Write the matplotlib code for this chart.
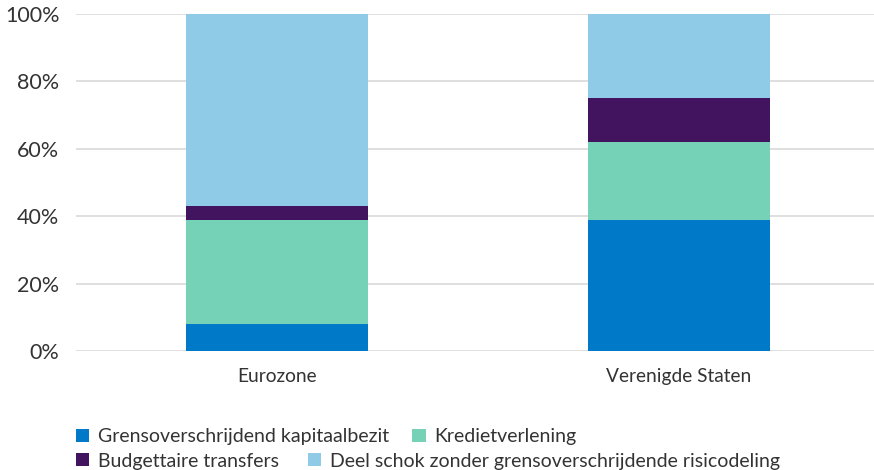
import matplotlib.pyplot as plt
from matplotlib.patches import Patch
import numpy as np

# -------- Data -------- #
categories = ["Eurozone", "Verenigde Staten"]
series_names = ["Grensoverschrijdend kapitaalbezit", "Kredietverlening",
                "Budgettaire transfers", "Deel schok zonder grensoverschrijdende risicodeling"]
kapitaalbezit = [8, 39]
kredietverlening = [31, 23]
transfers = [4, 13]
geen_risicodeling = [57, 25]
y_ticks = [0, 20, 40, 60, 80, 100]
y_labels = ["0%", "20%", "40%", "60%", "80%", "100%"]

colors = ["#0079C8", "#76D2B6", "#42145F", "#8FCAE7"]
plt.rcParams["font.family"] = ["Lato", "DejaVu Sans"]

fig = plt.figure(figsize=(8.74, 4.70), dpi=100)
ax = fig.add_axes([0.087, 0.253, 0.92, 0.717])

x = np.arange(len(categories))
bottom = np.zeros(len(categories))
for vals, col in zip([kapitaalbezit, kredietverlening, transfers, geen_risicodeling], colors):
    ax.bar(x, vals, width=0.453, bottom=bottom, color=col, zorder=3)
    bottom += np.array(vals)

ax.set_xlim(-0.5, 1.5)
ax.set_ylim(0, 100)
ax.set_yticks(y_ticks)
ax.set_yticklabels(y_labels, fontsize=15.5, color="#333333")
ax.set_xticks(x)
ax.set_xticklabels(categories, fontsize=13.8, color="#333333")
ax.tick_params(axis="both", length=0)
ax.tick_params(axis="y", pad=12)
ax.tick_params(axis="x", pad=12)
ax.grid(axis="y", color="#d9d9d9", linewidth=1.2, zorder=0)
ax.set_axisbelow(True)
for s in ax.spines.values():
    s.set_visible(False)

# -------- Legend, two rows -------- #
handles = [Patch(facecolor=c, edgecolor="none") for c in colors]
kw = dict(loc="center left", frameon=False, ncol=2, fontsize=14,
          handlelength=0.68, handleheight=0.68, handletextpad=0.45,
          borderpad=0, borderaxespad=0)
leg1 = fig.legend(handles[:2], series_names[:2], bbox_to_anchor=(0.087, 0.071),
                  columnspacing=1.2, **kw)
leg2 = fig.legend(handles[2:], series_names[2:], bbox_to_anchor=(0.087, 0.019),
                  columnspacing=1.5, **kw)
for leg in (leg1, leg2):
    for t in leg.get_texts():
        t.set_color("#333333")

fig.savefig("out.png", dpi=100)
